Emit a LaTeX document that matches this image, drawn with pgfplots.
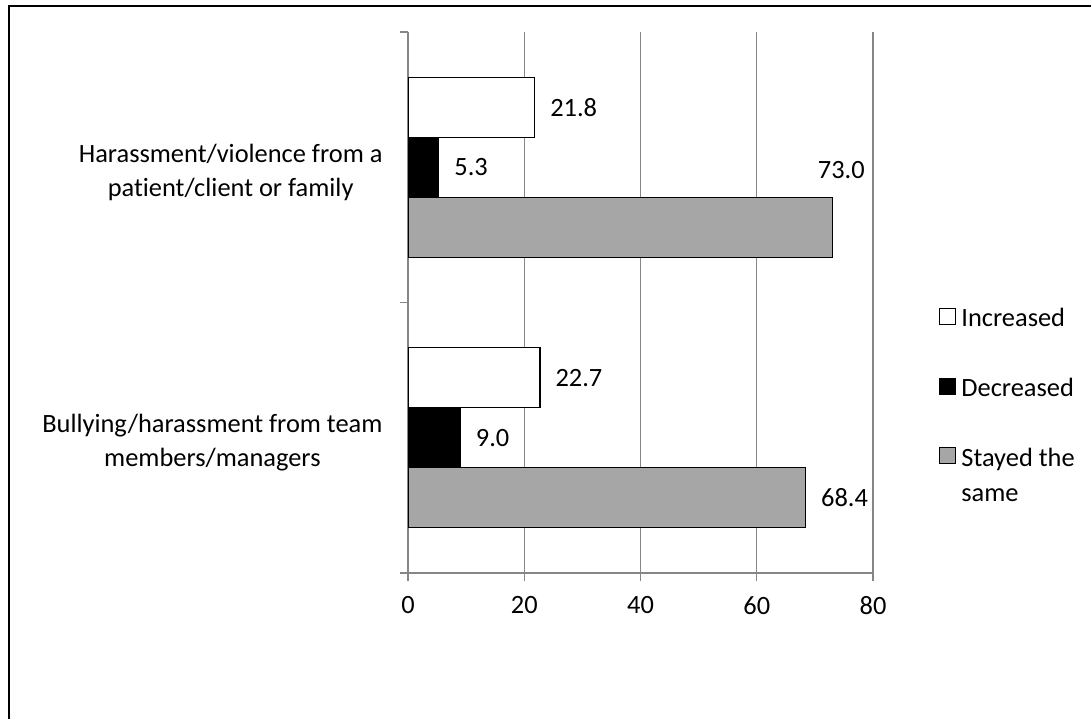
\documentclass[border=0pt]{standalone}
\usepackage{pgfplots}
\pgfplotsset{compat=1.18}
\usepackage{pgfplotstable}
\usepackage{fontspec}
\setmainfont[Ligatures={NoCommon}]{Carlito}
\definecolor{gridgray}{HTML}{868686}
\definecolor{bargray}{HTML}{A6A6A6}

\pgfplotstableread{
x y dx dy
21.8 1 15 0
22.7 0 15 0
}\inc
\pgfplotstableread{
x y dx dy
5.3 1 15 0
9.0 0 15 0
}\dec
\pgfplotstableread{
x y dx dy
73.0 1 -15 57
68.4 0 15 0
}\same

\begin{document}
\begin{tikzpicture}
\useasboundingbox (0,0) rectangle (1091bp,-719bp);
\draw[line width=2bp] (8.5bp,-720bp) -- (8.5bp,-6bp) -- (1092bp,-6bp);
\begin{axis}[
  at={(408bp,-573bp)}, anchor=south west,
  scale only axis, width=465bp, height=541bp,
  xbar, bar width=60bp,
  xmin=0, xmax=80, ymin=-0.5, ymax=1.5,
  xtick={0,20,40,60,80},
  ytick={0,1},
  yticklabels={{Bullying/harassment from team\\members/managers},{Harassment/violence from a\\patient/client or family}},
  minor ytick={-0.5,0.5,1.5},
  xmajorgrids,
  grid style={draw=gridgray, line width=1.3bp},
  axis x line*=bottom, axis y line*=left,
  axis line style={draw=gridgray, line width=1.3bp},
  tick align=outside, major tick length=8bp, minor tick length=8bp,
  every tick/.style={draw=gridgray, line width=1.3bp},
  major y tick style={draw=none},
  /pgf/number format/assume math mode=true,
  tick label style={font=\fontsize{26.5}{34}\selectfont},
  yticklabel style={align=center, xshift=-14bp, yshift=-5bp},
  xticklabel style={yshift=-12bp},
  point meta=x,
  nodes near coords={\pgfmathprintnumber[fixed,fixed zerofill,precision=1]{\pgfplotspointmeta}},
  visualization depends on={\thisrow{dx} \as \dx},
  visualization depends on={\thisrow{dy} \as \dy},
  every node near coord/.append style={font=\fontsize{26.5}{32}\selectfont, anchor=west, inner sep=0pt, xshift=\dx bp, yshift=\dy bp},
  legend style={at={(1.136,0.497)}, anchor=north west, draw=none, fill=none,
    font=\fontsize{26.5}{35}\selectfont, row sep=46bp, column sep=0bp,
    nodes={inner sep=2bp}},
  legend cell align=left,
  legend image code/.code={\draw[#1, draw=black, line width=1bp] (0bp,-6bp) rectangle (16bp,10bp);},
]
\addplot[fill=white, draw=black, line width=1.2bp, bar shift=60bp] table[x=x,y=y] {\inc};
\addplot[fill=black, draw=black, line width=1.2bp, bar shift=0bp] table[x=x,y=y] {\dec};
\addplot[fill=bargray, draw=black, line width=1.2bp, bar shift=-60bp] table[x=x,y=y] {\same};
\legend{{\hspace{3bp}Increased}, {\hspace{3bp}Decreased}, {\vtop{\baselineskip=35bp\hbox{\hspace{3bp}Stayed the}\hbox{\hspace{3bp}same}}}}
\end{axis}
\end{tikzpicture}
\end{document}
